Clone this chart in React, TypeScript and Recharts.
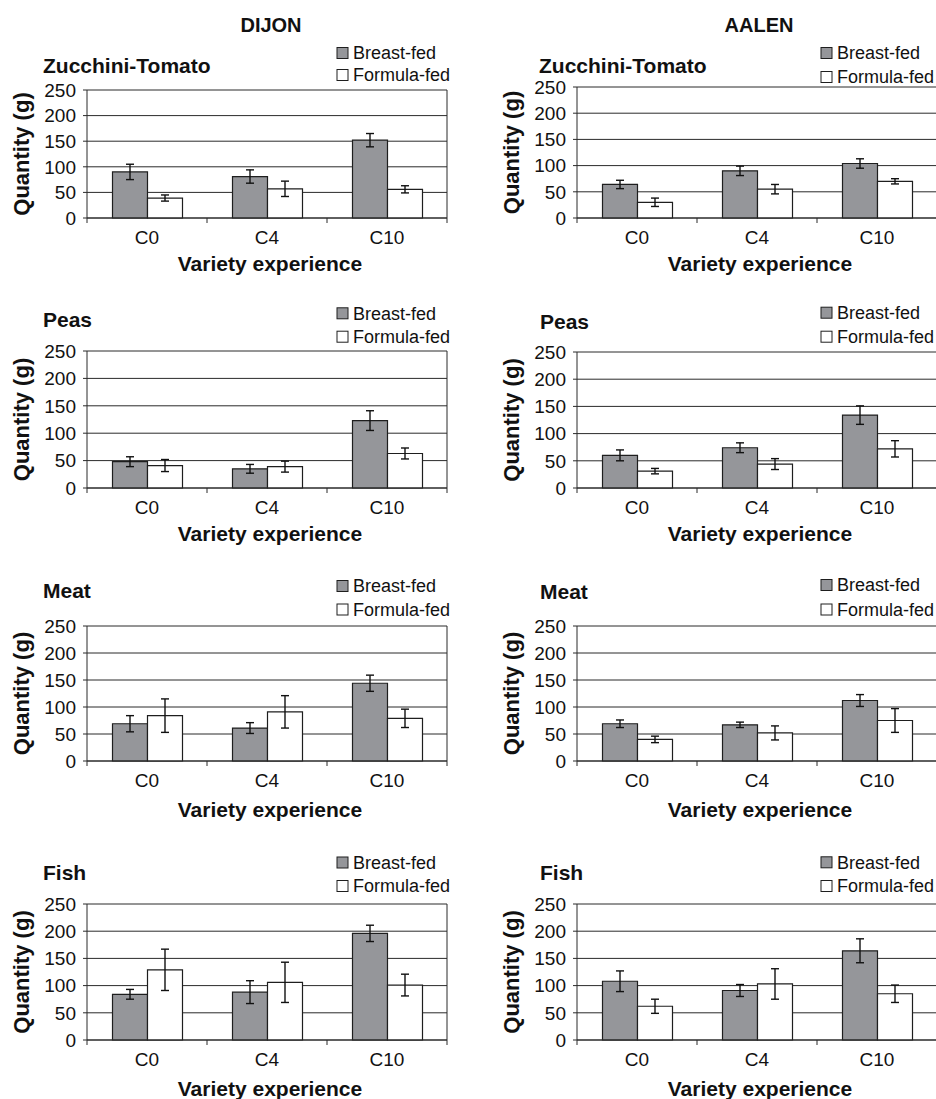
import React from "react";
import { BarChart, Bar, XAxis, YAxis, CartesianGrid, ErrorBar } from "recharts";

const CATEGORIES = ["C0", "C4", "C10"];
const Y_TICKS = [0, 50, 100, 150, 200, 250];
const SERIES = ["Breast-fed", "Formula-fed"];

// Dijon
const DIJON_ZT_BF = [90, 81, 152];
const DIJON_ZT_BF_ERR = [15, 13, 13];
const DIJON_ZT_FF = [39, 57, 56];
const DIJON_ZT_FF_ERR = [6, 15, 7];

const DIJON_PEAS_BF = [48, 35, 123];
const DIJON_PEAS_BF_ERR = [9, 8, 18];
const DIJON_PEAS_FF = [41, 39, 63];
const DIJON_PEAS_FF_ERR = [11, 10, 10];

const DIJON_MEAT_BF = [69, 61, 144];
const DIJON_MEAT_BF_ERR = [15, 10, 15];
const DIJON_MEAT_FF = [84, 91, 79];
const DIJON_MEAT_FF_ERR = [31, 30, 17];

const DIJON_FISH_BF = [84, 88, 196];
const DIJON_FISH_BF_ERR = [9, 21, 15];
const DIJON_FISH_FF = [129, 106, 101];
const DIJON_FISH_FF_ERR = [38, 37, 20];

// Aalen
const AALEN_ZT_BF = [64, 90, 104];
const AALEN_ZT_BF_ERR = [8, 9, 9];
const AALEN_ZT_FF = [30, 55, 70];
const AALEN_ZT_FF_ERR = [8, 9, 5];

const AALEN_PEAS_BF = [60, 74, 134];
const AALEN_PEAS_BF_ERR = [10, 9, 17];
const AALEN_PEAS_FF = [31, 44, 72];
const AALEN_PEAS_FF_ERR = [5, 10, 15];

const AALEN_MEAT_BF = [69, 67, 112];
const AALEN_MEAT_BF_ERR = [7, 5, 11];
const AALEN_MEAT_FF = [40, 52, 75];
const AALEN_MEAT_FF_ERR = [6, 13, 22];

const AALEN_FISH_BF = [108, 91, 164];
const AALEN_FISH_BF_ERR = [19, 11, 22];
const AALEN_FISH_FF = [62, 103, 85];
const AALEN_FISH_FF_ERR = [13, 28, 16];

const FONT = "'Liberation Sans', Arial, Helvetica, sans-serif";
const INK = "#111";
const GRAY = "#95969a";
const GRID = "#2a2a2a";

const Y_AXIS_W = 87;
const PLOT_W = 360;
const TOP_PAD = 10;
const RIGHT_PAD = 12;
const X_AXIS_H = 64;

// layout of each panel (page pixels)
const PANELS = [
  { title: "Zucchini-Tomato", bf: DIJON_ZT_BF, bfErr: DIJON_ZT_BF_ERR, ff: DIJON_ZT_FF, ffErr: DIJON_ZT_FF_ERR,
    left: 87, top: 90, bottom: 218, titleX: 43, titleY: 72.7, legX: 337, legY: [53, 75], xLab: 52.7 },
  { title: "Peas", bf: DIJON_PEAS_BF, bfErr: DIJON_PEAS_BF_ERR, ff: DIJON_PEAS_FF, ffErr: DIJON_PEAS_FF_ERR,
    left: 87, top: 351, bottom: 488, titleX: 43, titleY: 326.7, legX: 337, legY: [313.3, 336.7], xLab: 53.4 },
  { title: "Meat", bf: DIJON_MEAT_BF, bfErr: DIJON_MEAT_BF_ERR, ff: DIJON_MEAT_FF, ffErr: DIJON_MEAT_FF_ERR,
    left: 87, top: 626, bottom: 761, titleX: 43, titleY: 598.3, legX: 337, legY: [586, 609.5], xLab: 56 },
  { title: "Fish", bf: DIJON_FISH_BF, bfErr: DIJON_FISH_BF_ERR, ff: DIJON_FISH_FF, ffErr: DIJON_FISH_FF_ERR,
    left: 87, top: 904, bottom: 1040, titleX: 43, titleY: 879.7, legX: 337, legY: [862.5, 886], xLab: 56 },
  { title: "Zucchini-Tomato", bf: AALEN_ZT_BF, bfErr: AALEN_ZT_BF_ERR, ff: AALEN_ZT_FF, ffErr: AALEN_ZT_FF_ERR,
    left: 577, top: 87, bottom: 218, titleX: 539, titleY: 72.7, legX: 821, legY: [53, 77], xLab: 52.7 },
  { title: "Peas", bf: AALEN_PEAS_BF, bfErr: AALEN_PEAS_BF_ERR, ff: AALEN_PEAS_FF, ffErr: AALEN_PEAS_FF_ERR,
    left: 577, top: 352, bottom: 488, titleX: 540, titleY: 329.3, legX: 821, legY: [312.7, 336.7], xLab: 53.4 },
  { title: "Meat", bf: AALEN_MEAT_BF, bfErr: AALEN_MEAT_BF_ERR, ff: AALEN_MEAT_FF, ffErr: AALEN_MEAT_FF_ERR,
    left: 577, top: 626, bottom: 761, titleX: 540, titleY: 599, legX: 821, legY: [585, 609.5], xLab: 56 },
  { title: "Fish", bf: AALEN_FISH_BF, bfErr: AALEN_FISH_BF_ERR, ff: AALEN_FISH_FF, ffErr: AALEN_FISH_FF_ERR,
    left: 577, top: 904, bottom: 1040, titleX: 540, titleY: 879.7, legX: 821, legY: [862.3, 886], xLab: 56 },
];

const CatTick = (props: any) => {
  const { x, y, payload, index } = props;
  const bw = PLOT_W / CATEGORIES.length;
  return (
    <g>
      <line x1={x - bw / 2} x2={x - bw / 2} y1={y} y2={y + 5} stroke={GRID} />
      {index === CATEGORIES.length - 1 && (
        <line x1={x + bw / 2} x2={x + bw / 2} y1={y} y2={y + 5} stroke={GRID} />
      )}
      <text x={x} y={y + 25.5} textAnchor="middle" fontSize={19} fontFamily={FONT} fill={INK}>
        {payload.value}
      </text>
    </g>
  );
};

function Panel({ p }: { p: any }) {
  const data = CATEGORIES.map((c, i) => ({
    cat: c,
    bf: p.bf[i],
    bfErr: p.bfErr[i],
    ff: p.ff[i],
    ffErr: p.ffErr[i],
  }));
  const plotH = p.bottom - p.top;
  return (
    <div style={{ position: "absolute", left: p.left - Y_AXIS_W, top: p.top - TOP_PAD }}>
      <BarChart
        width={Y_AXIS_W + PLOT_W + RIGHT_PAD}
        height={TOP_PAD + plotH + X_AXIS_H}
        data={data}
        margin={{ top: TOP_PAD, right: RIGHT_PAD, left: 0, bottom: 0 }}
        barCategoryGap="21.25%"
        barGap={0}
      >
        <CartesianGrid
          stroke={GRID}
          strokeWidth={1}
          verticalCoordinatesGenerator={({ offset }: any) => [offset.left + offset.width]}
        />
        <XAxis
          dataKey="cat"
          height={X_AXIS_H}
          interval={0}
          tickSize={0}
          tickMargin={0}
          tickLine={false}
          axisLine={{ stroke: GRID }}
          tick={<CatTick />}
          label={{
            value: "Variety experience",
            position: "insideTop",
            offset: p.xLab - 14.9,
            dx: 3,
            fontSize: 21,
            fontWeight: "bold",
            fontFamily: FONT,
            fill: INK,
          }}
        />
        <YAxis
          width={Y_AXIS_W}
          domain={[0, 250]}
          ticks={Y_TICKS}
          interval={0}
          tickSize={4}
          tickMargin={7}
          axisLine={{ stroke: GRID }}
          tickLine={{ stroke: GRID }}
          tick={{ fontSize: 19, fontFamily: FONT, fill: INK }}
          label={{
            value: "Quantity (g)",
            angle: -90,
            position: "insideLeft",
            offset: 21,
            style: { textAnchor: "middle" },
            fontSize: 22,
            fontWeight: "bold",
            fontFamily: FONT,
            fill: INK,
          }}
        />
        <Bar dataKey="bf" name={SERIES[0]} fill={GRAY} stroke="#1e1e1e" strokeWidth={1.2} isAnimationActive={false}>
          <ErrorBar dataKey="bfErr" width={4} stroke={INK} strokeWidth={1.4} direction="y" />
        </Bar>
        <Bar dataKey="ff" name={SERIES[1]} fill="#ffffff" stroke="#1e1e1e" strokeWidth={1.2} isAnimationActive={false}>
          <ErrorBar dataKey="ffErr" width={4} stroke={INK} strokeWidth={1.4} direction="y" />
        </Bar>
      </BarChart>
    </div>
  );
}

function Overlay() {
  return (
    <svg
      width={936}
      height={1099}
      style={{ position: "absolute", left: 0, top: 0, pointerEvents: "none" }}
      fontFamily={FONT}
    >
      <text x={271} y={31.7} textAnchor="middle" fontSize={20} fontWeight="bold" fill={INK}>DIJON</text>
      <text x={759} y={31.7} textAnchor="middle" fontSize={20} fontWeight="bold" fill={INK}>AALEN</text>
      {PANELS.map((p, i) => (
        <g key={i}>
          <text x={p.titleX} y={p.titleY} fontSize={21} fontWeight="bold" fill={INK}>{p.title}</text>
          {SERIES.map((s, j) => (
            <g key={s}>
              <rect
                x={p.legX}
                y={p.legY[j] - 5.5}
                width={11}
                height={11}
                fill={j === 0 ? GRAY : "#ffffff"}
                stroke="#1e1e1e"
                strokeWidth={1}
              />
              <text x={p.legX + 16} y={p.legY[j] + 6.3} fontSize={18} fill={INK}>{s}</text>
            </g>
          ))}
        </g>
      ))}
    </svg>
  );
}

export default function App() {
  return (
    <div
      style={{
        position: "fixed",
        left: 0,
        top: 0,
        width: 936,
        height: 1099,
        overflow: "hidden",
        background: "#ffffff",
      }}
    >
      {PANELS.map((p, i) => (
        <Panel key={i} p={p} />
      ))}
      <Overlay />
    </div>
  );
}
